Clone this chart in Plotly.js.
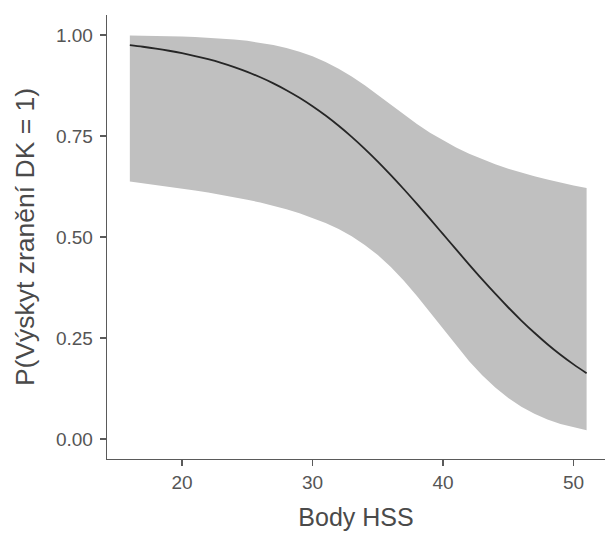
<!DOCTYPE html>
<html>
<head>
<meta charset="utf-8">
<script src="https://cdn.plot.ly/plotly-3.0.1.min.js"></script>
<style>html,body{margin:0;padding:0;background:#fff;}#chart{width:605px;height:534px;}</style>
</head>
<body>
<div id="chart"></div>
<script>
const hss = [16,17,18,19,20,21,22,23,24,25,26,27,28,29,30,31,32,33,34,35,36,37,38,39,40,41,42,43,44,45,46,47,48,49,50,51];
const prob = [0.9749,0.9709,0.9663,0.9610,0.9550,0.9480,0.9400,0.9309,0.9205,0.9087,0.8953,0.8803,0.8634,0.8446,0.8236,0.8006,0.7753,0.7479,0.7183,0.6867,0.6532,0.6182,0.5819,0.5447,0.5070,0.4692,0.4318,0.3951,0.3596,0.3255,0.2932,0.2629,0.2346,0.2085,0.1847,0.1630];
const upper = [0.9988,0.9985,0.9979,0.9973,0.9964,0.9952,0.9937,0.9916,0.9890,0.9855,0.9811,0.9753,0.9680,0.9588,0.9474,0.9334,0.9167,0.8973,0.8754,0.8518,0.8272,0.8028,0.7796,0.7583,0.7392,0.7216,0.7059,0.6922,0.6799,0.6691,0.6592,0.6503,0.6421,0.6344,0.6273,0.6215];
const lower = [0.6373,0.6333,0.6291,0.6248,0.6202,0.6154,0.6102,0.6047,0.5988,0.5924,0.5853,0.5775,0.5689,0.5590,0.5478,0.5348,0.5197,0.5017,0.4805,0.4553,0.4257,0.3917,0.3539,0.3133,0.2717,0.2308,0.1924,0.1576,0.1272,0.1012,0.0797,0.0622,0.0481,0.0371,0.0284,0.0216];
const xTicks = [20,30,40,50];
const yTicks = [0,0.25,0.5,0.75,1];
const yTickText = ['0.00','0.25','0.50','0.75','1.00'];

const traces = [
  {x: hss, y: lower, type: 'scatter', mode: 'lines', line: {width: 0, color: 'rgba(0,0,0,0)'}, hoverinfo: 'skip', showlegend: false},
  {x: hss, y: upper, type: 'scatter', mode: 'lines', fill: 'tonexty', fillcolor: '#C0C0C0', line: {width: 0, color: 'rgba(0,0,0,0)'}, hoverinfo: 'skip', showlegend: false},
  {x: hss, y: prob, type: 'scatter', mode: 'lines', line: {color: '#262626', width: 1.8, shape: 'spline'}, showlegend: false}
];

const axisCommon = {
  showgrid: false, zeroline: false, showline: true, linecolor: '#5a5a5a', linewidth: 1.3,
  ticks: 'outside', ticklen: 6, tickwidth: 1.3, tickcolor: '#5a5a5a',
  tickfont: {family: 'Liberation Sans, Arial, sans-serif', size: 19, color: '#555555'}
};

const layout = {
  width: 605, height: 534,
  margin: {l: 107, r: 0, t: 15, b: 75},
  paper_bgcolor: '#fff', plot_bgcolor: '#fff',
  xaxis: Object.assign({}, axisCommon, {
    range: [14.25, 52.41], tickvals: xTicks,
    title: {text: 'Body HSS', font: {family: 'Liberation Sans, Arial, sans-serif', size: 25, color: '#4a4a4a'}, standoff: 16}
  }),
  yaxis: Object.assign({}, axisCommon, {
    range: [-0.0495, 1.0495], tickvals: yTicks, ticktext: yTickText, ticklabelstandoff: 3,
    title: {text: 'P(Výskyt zranění DK = 1)', font: {family: 'Liberation Sans, Arial, sans-serif', size: 26.5, color: '#4a4a4a'}, standoff: 13}
  }),
  showlegend: false
};

Plotly.newPlot('chart', traces, layout, {displayModeBar: false, staticPlot: true});
</script>
</body>
</html>
